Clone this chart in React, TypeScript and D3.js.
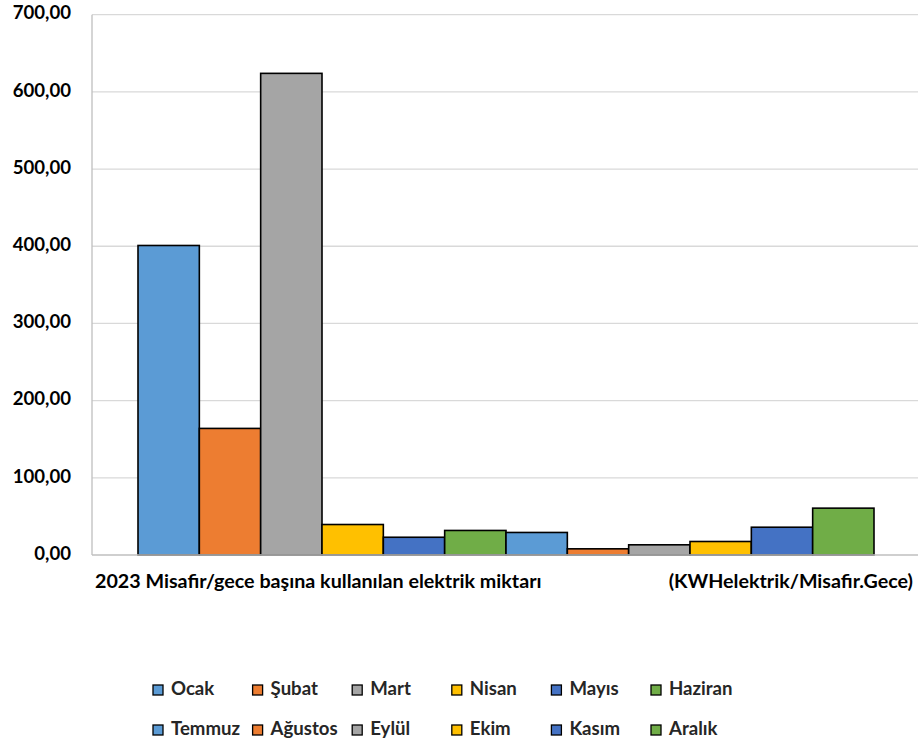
import React from "react";
import * as d3 from "d3";

const months = ["Ocak", "Şubat", "Mart", "Nisan", "Mayıs", "Haziran", "Temmuz", "Ağustos", "Eylül", "Ekim", "Kasım", "Aralık"];
const values = [401, 164, 624, 39.5, 23, 31.8, 29.2, 8, 13.2, 17.5, 36, 60.7];
const colors = ["#5B9BD5", "#ED7D31", "#A5A5A5", "#FFC000", "#4472C4", "#70AD47", "#5B9BD5", "#ED7D31", "#A5A5A5", "#FFC000", "#4472C4", "#70AD47"];
const yTicks = [0, 100, 200, 300, 400, 500, 600, 700];
const xLabel = "2023 Misafir/gece başına kullanılan elektrik miktarı";
const unitLabel = "(KWHelektrik/Misafir.Gece)";

const W = 918;
const H = 747;
const FONT = "Lato, 'Open Sans', sans-serif";

export default function App() {
  const x = d3.scaleBand<string>().domain(months).range([92, 920]).paddingInner(0).paddingOuter(0.75);
  const y = d3.scaleLinear().domain([0, 700]).range([555, 14.7]);
  const fmt = (v: number) => v.toFixed(2).replace(".", ",");

  const legendX = d3.scalePoint<number>().domain([0, 1, 2, 3, 4, 5]).range([153, 651]);
  const legendRowY = [690, 730];

  return (
    <svg width={W} height={H} style={{ position: "absolute", left: 0, top: 0, background: "#fff" }} fontFamily={FONT}>
      {yTicks.map((t) => (
        <g key={t}>
          {t > 0 && <line x1={92} x2={918} y1={y(t)} y2={y(t)} stroke="#d9d9d9" strokeWidth={1.3} />}
          <text x={71} y={y(t)} textAnchor="end" dominantBaseline="middle" fontSize={18.6} fontWeight="bold" fill="#000">
            {fmt(t)}
          </text>
        </g>
      ))}
      <line x1={92} x2={92} y1={y(700)} y2={y(0)} stroke="#bfbfbf" strokeWidth={1.3} />
      {months.map((m, i) => (
        <rect
          key={m}
          x={x(m)}
          y={y(values[i])}
          width={x.bandwidth()}
          height={y(0) - y(values[i])}
          fill={colors[i]}
          stroke="#000"
          strokeWidth={1.6}
        />
      ))}
      <line x1={92} x2={918} y1={y(0)} y2={y(0)} stroke="#bfbfbf" strokeWidth={1.3} />
      <text x={95} y={583} dominantBaseline="middle" fontSize={19.7} fontWeight="bold" fill="#000">
        {xLabel}
      </text>
      <text x={913} y={583} textAnchor="end" dominantBaseline="middle" fontSize={19.7} fontWeight="bold" fill="#000">
        {unitLabel}
      </text>
      {months.map((m, i) => {
        const col = i % 6;
        const row = Math.floor(i / 6);
        const lx = legendX(col) as number;
        const ly = legendRowY[row];
        return (
          <g key={"lg" + m}>
            <rect x={lx} y={ly - 5} width={10} height={10} fill={colors[i]} stroke="#000" strokeWidth={1.3} />
            <text x={lx + 18} y={ly} dominantBaseline="middle" fontSize={18.6} fontWeight="bold" fill="#262626">
              {m}
            </text>
          </g>
        );
      })}
    </svg>
  );
}
